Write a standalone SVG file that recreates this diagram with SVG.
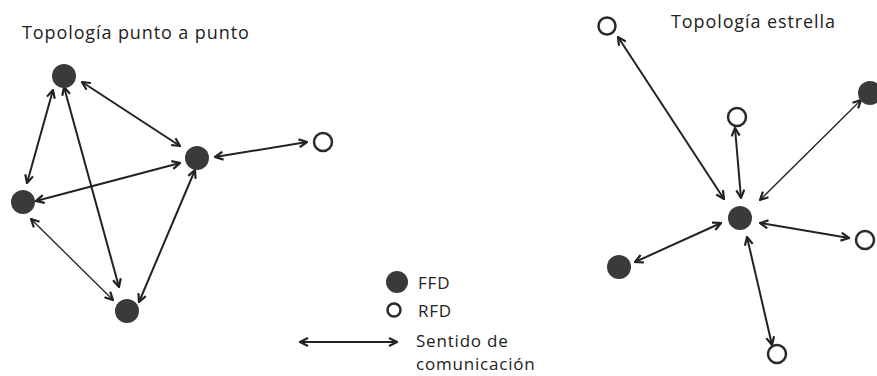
<svg xmlns="http://www.w3.org/2000/svg" width="877" height="376" viewBox="0 0 877 376">
<defs>
<marker id="ah" viewBox="0 0 10 10" refX="9" refY="5" markerWidth="10" markerHeight="10" markerUnits="userSpaceOnUse" orient="auto-start-reverse">
<path d="M1,1 L9,5 L1,9" fill="none" stroke="#222" stroke-width="2.2"/>
</marker>
<style>
.ffd{fill:#3a3a3a;}
.rfd{fill:#fff;stroke:#2a2a2a;stroke-width:2.5;}
.e{stroke:#222;stroke-width:2;fill:none;marker-start:url(#ah);marker-end:url(#ah);}
.thin{stroke-width:1.3;}
.t{font-family:"Open Sans","Noto Sans",sans-serif;font-size:18px;letter-spacing:0.9px;fill:#222;}
.l{font-size:17px;letter-spacing:0.8px;}
</style>
</defs>
<rect width="877" height="376" fill="#fff"/>
<text class="t" x="22" y="39">Topología punto a punto</text>
<text class="t" x="671" y="28">Topología estrella</text>
<g id="connectors">
<line class="e" x1="82" y1="82" x2="180" y2="146"/>
<line class="e" x1="53" y1="90" x2="27" y2="183"/>
<line class="e" x1="64" y1="87" x2="119" y2="287"/>
<line class="e" x1="180" y1="163" x2="36" y2="201"/>
<line class="e thin" x1="31" y1="219" x2="113" y2="300"/>
<line class="e" x1="195" y1="170" x2="139" y2="302"/>
<line class="e" x1="215" y1="157" x2="307" y2="142"/>
<line class="e" x1="618" y1="37" x2="724" y2="199"/>
<line class="e" x1="735" y1="128" x2="741" y2="198"/>
<line class="e thin" x1="861" y1="100" x2="760" y2="200"/>
<line class="e" x1="760" y1="223" x2="849" y2="238"/>
<line class="e" x1="721" y1="223" x2="635" y2="262"/>
<line class="e" x1="747" y1="237" x2="772" y2="345"/>
<line class="e" x1="300" y1="342" x2="397" y2="342"/>
</g>
<g id="p-a"><circle class="ffd" cx="64" cy="76" r="12"/></g>
<g id="p-b"><circle class="ffd" cx="197" cy="158" r="12"/></g>
<g id="p-c"><circle class="ffd" cx="23" cy="202" r="12"/></g>
<g id="p-d"><circle class="ffd" cx="127" cy="311" r="12"/></g>
<g id="p-r"><circle class="rfd" cx="323" cy="142" r="9"/></g>
<g id="s-hub"><circle class="ffd" cx="740" cy="218" r="12"/></g>
<g id="s-tl"><circle class="rfd" cx="607" cy="26" r="8.5"/></g>
<g id="s-top"><circle class="rfd" cx="737" cy="117" r="9"/></g>
<g id="s-tr"><circle class="ffd" cx="870" cy="93" r="12"/></g>
<g id="s-r"><circle class="rfd" cx="865" cy="240" r="9"/></g>
<g id="s-bl"><circle class="ffd" cx="619" cy="267" r="12"/></g>
<g id="s-b"><circle class="rfd" cx="777" cy="354" r="9"/></g>
<g id="legend">
<circle class="ffd" cx="397" cy="282" r="11"/>
<text class="t l" x="418" y="289">FFD</text>
<circle class="rfd" cx="394" cy="310" r="6.5"/>
<text class="t l" x="418" y="317">RFD</text>
<text class="t l" x="416" y="347">Sentido de</text>
<text class="t l" x="416" y="370">comunicación</text>
</g>
</svg>
